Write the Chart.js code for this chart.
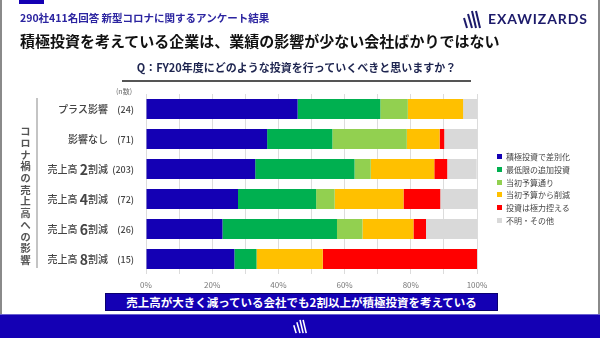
<!DOCTYPE html>
<html lang="ja">
<head>
<meta charset="utf-8">
<script src="https://cdn.jsdelivr.net/npm/chart.js@4/dist/chart.umd.min.js"></script>
<style>
  html, body { margin: 0; padding: 0; background: #fff; }
  body { width: 600px; height: 338px; position: relative; overflow: hidden;
         font-family: "Noto Sans CJK JP", "Noto Sans", sans-serif; }
  .frame { position: absolute; left: 0; top: 0; width: 596px; height: 314px;
           border-left: 2px solid #8a8a8a; border-right: 2px solid #8a8a8a; }
  .tab { position: absolute; left: 19px; top: 0; width: 25px; height: 4px; background: #1400b4; }
  #chart { position: absolute; left: 0; top: 0; }
  .abs { position: absolute; white-space: nowrap; }
  .survey { left: 20px; top: 10px; font-size: 10.5px; font-weight: 700; color: #2b24a0; }
  .brand { left: 488px; top: 10px; font-family: Lato, sans-serif; font-size: 14px; font-weight: 700;
           letter-spacing: 0.9px; color: #1c1a6a; }
  .headline { left: 20px; top: 30px; font-size: 15px; font-weight: 700; color: #111; }
  .question { left: 122px; width: 349px; top: 59px; text-align: center; font-size: 11px;
              font-weight: 700; color: #1e2550; }
  .qline { left: 122px; top: 80px; width: 349px; height: 2px; background: #555; }
  .side { left: 18px; top: 126px; writing-mode: vertical-rl; font-size: 10.5px; font-weight: 700;
          color: #555; letter-spacing: 1.2px; }
  .sideline { left: 36px; top: 98px; width: 2px; height: 170px; background: #c4c4c4; }
  .ncap { left: 116px; top: 86px; font-size: 7px; color: #666; }
  #legend { left: 497px; top: 151px; font-size: 8px; color: #444; }
  #legend div { height: 12.8px; line-height: 12.8px; }
  #legend span { display: inline-block; width: 5px; height: 5px; margin-right: 4px; vertical-align: 1px; }
  .callout { left: 105px; top: 293px; width: 391px; height: 16px; line-height: 16px; background: #1400b4;
             border: 1px solid #0a0070; color: #fff; text-align: center; font-size: 11.5px; font-weight: 700; }
  .footer { left: 0; top: 314px; width: 600px; height: 24px; background: #1400b4;
            border-top: 1px solid #6a60d0; box-sizing: border-box; }
</style>
</head>
<body>
<div class="frame"></div>
<div class="tab"></div>
<canvas id="chart" width="600" height="338"></canvas>

<div class="abs survey">290社411名回答 新型コロナに関するアンケート結果</div>
<svg class="abs" style="left:463px;top:10px" width="18" height="19" viewBox="0 0 18 19">
  <g stroke="#1c1a6a" stroke-width="2" stroke-linecap="butt">
    <line x1="1" y1="8" x2="4" y2="18"/>
    <line x1="5" y1="4" x2="9" y2="18"/>
    <line x1="9" y1="1" x2="13" y2="18"/>
    <line x1="13" y1="1" x2="17" y2="18"/>
  </g>
</svg>
<div class="abs brand">EXAWIZARDS</div>
<div class="abs headline">積極投資を考えている企業は、業績の影響が少ない会社ばかりではない</div>
<div class="abs question">Q：FY20年度にどのような投資を行っていくべきと思いますか？</div>
<div class="abs qline"></div>

<div class="abs side">コロナ禍の売上高への影響</div>
<div class="abs sideline"></div>
<div class="abs ncap">(n数)</div>
<div class="abs" id="legend"></div>

<div class="abs callout">売上高が大きく減っている会社でも2割以上が積極投資を考えている</div>
<div class="abs footer"></div>
<svg class="abs" style="left:293px;top:319px" width="14" height="15" viewBox="0 0 18 19">
  <g stroke="#fff" stroke-width="2">
    <line x1="1" y1="8" x2="4" y2="18"/>
    <line x1="5" y1="4" x2="9" y2="18"/>
    <line x1="9" y1="1" x2="13" y2="18"/>
    <line x1="13" y1="1" x2="17" y2="18"/>
  </g>
</svg>

<script>
// rows, top to bottom, with the number of respondents
const categories = ['プラス影響', '影響なし', '売上高 2割減', '売上高 4割減', '売上高 6割減', '売上高 8割減'];
const respondents = [24, 71, 203, 72, 26, 15];

// share of each answer per row (%)
const differentiate = [45.8, 36.6, 33.0, 27.8, 23.1, 26.7];
const minimumExtra  = [25.0, 19.7, 30.0, 23.6, 34.6, 6.7];
const asBudgeted    = [8.3, 22.5, 4.9, 5.6, 7.7, 0];
const budgetCut     = [16.7, 9.9, 19.2, 20.8, 15.4, 20.0];
const holdBack      = [0, 1.4, 3.9, 11.1, 3.8, 46.7];
const unknownOther  = [4.2, 9.9, 8.9, 11.1, 15.4, 0];

const answerLabels = ['積極投資で差別化', '最低限の追加投資', '当初予算通り', '当初予算から削減', '投資は極力控える', '不明・その他'];
const answerColors = ['#1400b4', '#00b050', '#92d050', '#ffc000', '#ff0000', '#d9d9d9'];
const seriesValues = [differentiate, minimumExtra, asBudgeted, budgetCut, holdBack, unknownOther];

const xTickStep = 10;
const xLabelEvery = 20;

// category names and n counts to the left of the bars
const rowLabels = {
  id: 'rowLabels',
  afterDraw(chart) {
    const ctx = chart.ctx;
    const y = chart.scales.y;
    const nameRight = 108;
    const countRight = 134;
    const family = '"Noto Sans CJK JP", sans-serif';
    ctx.save();
    ctx.fillStyle = '#444';
    ctx.textBaseline = 'middle';
    categories.forEach((name, i) => {
      const py = y.getPixelForValue(i);
      const m = name.match(/^(.*?)(\d)(.*)$/);
      const parts = m
        ? [[m[1], '500 10px ' + family], [m[2], '700 14px ' + family], [m[3], '500 10px ' + family]]
        : [[name, '500 10px ' + family]];
      let total = 0;
      parts.forEach(p => { ctx.font = p[1]; total += ctx.measureText(p[0]).width; });
      let px = nameRight - total;
      ctx.textAlign = 'left';
      parts.forEach(p => {
        ctx.font = p[1];
        ctx.fillText(p[0], px, py + 0.5);
        px += ctx.measureText(p[0]).width;
      });
      ctx.font = '500 9px ' + family;
      ctx.textAlign = 'right';
      ctx.fillText('(' + respondents[i] + ')', countRight, py + 0.5);
    });
    ctx.restore();
  }
};

const datasets = answerLabels.map((label, k) => ({
  label: label,
  data: seriesValues[k],
  backgroundColor: answerColors[k],
  borderWidth: 0,
  barPercentage: 0.667,
  categoryPercentage: 1
}));

new Chart(document.getElementById('chart'), {
  type: 'bar',
  data: { labels: categories, datasets: datasets },
  options: {
    indexAxis: 'y',
    responsive: false,
    animation: false,
    layout: { padding: { left: 146, right: 123, top: 94, bottom: 44 } },
    plugins: { legend: { display: false }, tooltip: { enabled: false } },
    scales: {
      x: {
        stacked: true,
        min: 0,
        max: 100,
        afterFit(scale) { scale.height = 20; },
        grid: { color: '#dcdcdc', lineWidth: 1, drawTicks: false },
        border: { display: false },
        ticks: {
          stepSize: xTickStep,
          padding: 6,
          color: '#777',
          font: { size: 8, family: '"Noto Sans CJK JP", sans-serif' },
          callback: v => (v % xLabelEvery === 0 ? v + '%' : '')
        }
      },
      y: { stacked: true, display: false }
    }
  },
  plugins: [rowLabels]
});

// legend built from the same series
const legend = document.getElementById('legend');
answerLabels.forEach((label, k) => {
  const row = document.createElement('div');
  const box = document.createElement('span');
  box.style.background = answerColors[k];
  row.appendChild(box);
  row.appendChild(document.createTextNode(label));
  legend.appendChild(row);
});
</script>
</body>
</html>
